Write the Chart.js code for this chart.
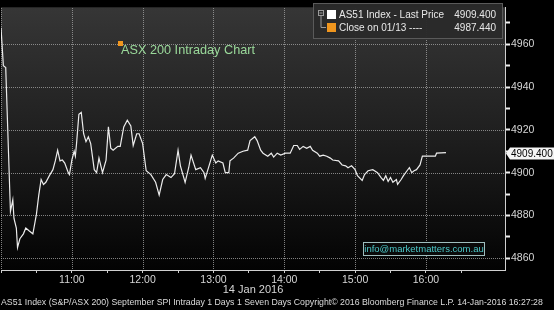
<!DOCTYPE html>
<html>
<head>
<meta charset="utf-8">
<script src="https://cdn.jsdelivr.net/npm/chart.js@4"></script>
<style>
  html, body { margin: 0; padding: 0; background: #000; }
  #wrap { width: 554px; height: 310px; position: relative; }
  canvas { display: block; }
</style>
</head>
<body>
<div id="wrap"><canvas id="c" width="554" height="310"></canvas></div>
<script>
// ---- Data ----
// minutes after 10:00 on 14 Jan 2016
const minutesSince10 = [0,2,4,8,10,11,13,14,16,19,21,24,27,30,32,34,36,38,41,44,46,48,50,52,54,57,58,60,62,63,64,66,68,70,72,74,76,79,81,83,86,89,91,93,95,99,101,104,107,110,112,115,117,120,123,127,131,134,137,140,144,147,150,152,156,159,161,165,169,172,173,176,179,182,184,188,190,193,194,197,201,205,209,211,215,217,220,222,226,229,231,234,237,241,245,248,251,253,256,259,262,264,268,270,273,276,279,281,286,289,292,294,297,300,302,306,308,311,315,319,322,324,326,328,330,332,335,336,339,341,344,346,348,350,352,355,357,361,368,369,377];
const lastPrice = [4967.7,4950.0,4949.1,4881.8,4887.3,4878.6,4874.1,4865.0,4869.1,4871.4,4874.1,4872.7,4871.4,4880.5,4889.5,4896.8,4894.5,4895.5,4898.6,4901.4,4905.5,4910.5,4905.5,4905.9,4904.5,4900.0,4899.1,4905.9,4910.0,4907.7,4913.6,4927.3,4928.2,4918.2,4914.5,4916.8,4913.6,4901.4,4900.0,4906.8,4900.0,4905.9,4921.4,4911.4,4910.5,4912.3,4912.3,4921.4,4924.5,4921.8,4912.7,4918.2,4918.2,4913.6,4900.9,4899.1,4895.5,4889.5,4896.8,4899.1,4897.7,4899.5,4910.5,4903.2,4895.5,4902.3,4908.2,4901.4,4902.3,4900.0,4897.3,4902.7,4908.2,4904.5,4905.5,4904.5,4900.0,4900.0,4905.5,4906.8,4909.1,4910.0,4910.5,4915.0,4916.8,4915.0,4910.5,4909.1,4907.7,4909.1,4907.3,4909.1,4908.2,4909.1,4909.1,4912.7,4912.7,4910.9,4912.3,4911.4,4912.3,4910.5,4909.1,4907.7,4908.2,4907.7,4906.8,4905.9,4905.5,4903.6,4903.2,4902.3,4903.2,4901.4,4898.6,4896.4,4899.1,4900.9,4901.4,4900.0,4897.7,4896.4,4898.6,4895.9,4897.7,4895.5,4896.8,4894.5,4896.8,4898.6,4900.9,4902.3,4900.0,4900.9,4901.4,4903.6,4907.7,4907.7,4907.7,4909.1,4909.4];

const xTickMinutes = [0,30,60,90,120,150,180,210,240,270,300,330,360,390];
const xLabelMinutes = [60,120,180,240,300,360];
const xTickLabels = ['11:00','12:00','13:00','14:00','15:00','16:00'];
const yTickValues = [4860,4870,4880,4890,4900,4910,4920,4930,4940,4950,4960,4970];
const yLabelValues = [4860,4880,4900,4920,4940,4960];

const dateLabel = '14 Jan 2016';
const chartTitle = 'ASX 200 Intraday Chart';
const legendNames = ['AS51 Index - Last Price', 'Close on 01/13 ----'];
const legendValues = ['4909.400', '4987.440'];
const lastValueLabel = '4909.400';
const lastValue = 4909.4;
const watermark = 'info@marketmatters.com.au';
const footer = 'AS51 Index (S&P/ASX 200) September SPI Intraday 1 Days 1 Seven Days Copyright\u00A9 2016 Bloomberg Finance L.P. 14-Jan-2016 16:27:28';

const FONT = '"Liberation Sans", Arial, sans-serif';
const GRID = 'rgba(160,160,160,0.8)';
const xGridMinutes = [0].concat(xLabelMinutes);

const bgPlugin = {
  id: 'bg',
  beforeDraw(chart) {
    const {ctx, chartArea: a} = chart;
    ctx.save();
    ctx.fillStyle = '#000';
    ctx.fillRect(0, 0, chart.width, chart.height);
    const g = ctx.createLinearGradient(0, a.top, 0, a.bottom);
    g.addColorStop(0, '#363636');
    g.addColorStop(0.5, '#1e1e1e');
    g.addColorStop(1, '#030303');
    ctx.fillStyle = g;
    ctx.fillRect(a.left, a.top, a.right - a.left, a.bottom - a.top);
    ctx.restore();
  }
};

// dotted grid lines (1px dots) at the labelled ticks of both scales
const gridPlugin = {
  id: 'dotgrid',
  beforeDatasetsDraw(chart) {
    const {ctx, chartArea: a, scales} = chart;
    ctx.save();
    ctx.fillStyle = GRID;
    scales.x.ticks.forEach(t => {
      if (xGridMinutes.indexOf(t.value) < 0) return;
      const px = Math.round(scales.x.getPixelForValue(t.value));
      for (let y = Math.ceil(a.top); y < a.bottom; y += 2) ctx.fillRect(px, y, 1, 1);
    });
    scales.y.ticks.forEach(t => {
      if (yLabelValues.indexOf(t.value) < 0) return;
      const py = Math.round(scales.y.getPixelForValue(t.value));
      for (let x = Math.ceil(a.left); x < a.right; x += 2) ctx.fillRect(x, py, 1, 1);
    });
    ctx.restore();
  }
};

const overlayPlugin = {
  id: 'overlay',
  afterDraw(chart) {
    const {ctx} = chart;
    const ys = chart.scales.y;
    ctx.save();

    // Legend box
    ctx.fillStyle = 'rgba(42,42,42,0.97)';
    ctx.fillRect(313, 3, 190, 36);
    ctx.strokeStyle = '#5a5a5a';
    ctx.lineWidth = 1;
    ctx.strokeRect(313.5, 3.5, 189, 35);
    ctx.strokeStyle = '#9a9a9a';
    ctx.strokeRect(318.5, 10.5, 5, 5);
    ctx.beginPath();
    ctx.moveTo(319.5, 13); ctx.lineTo(322.5, 13);
    ctx.moveTo(321, 16); ctx.lineTo(321, 27.5); ctx.lineTo(326, 27.5);
    ctx.stroke();
    ctx.fillStyle = '#ffffff';
    ctx.fillRect(327, 10, 9, 9);
    ctx.fillStyle = '#f0961e';
    ctx.fillRect(327, 23, 9, 9);
    ctx.font = '10px ' + FONT;
    ctx.fillStyle = '#e8e8e8';
    ctx.textBaseline = 'middle';
    ctx.textAlign = 'left';
    ctx.fillText(legendNames[0], 339, 15);
    ctx.fillText(legendNames[1], 339, 28);
    ctx.textAlign = 'right';
    ctx.fillText(legendValues[0], 496, 15);
    ctx.fillText(legendValues[1], 496, 28);

    // Chart title annotation
    ctx.fillStyle = '#f0961e';
    ctx.fillRect(118, 41, 5, 5);
    ctx.font = '12.7px ' + FONT;
    ctx.fillStyle = '#9ad99a';
    ctx.textAlign = 'left';
    ctx.fillText(chartTitle, 121, 50);

    // Watermark box
    ctx.fillStyle = '#0a0a0a';
    ctx.fillRect(363, 242, 122, 14);
    ctx.strokeStyle = '#9fbdbd';
    ctx.strokeRect(363.5, 242.5, 121, 13);
    ctx.font = '9.5px ' + FONT;
    ctx.fillStyle = '#4cc8c8';
    ctx.textAlign = 'center';
    ctx.fillText(watermark, 424, 249.5);

    // Last price label on right axis
    const py = Math.round(ys.getPixelForValue(lastValue)) + 0.5;
    ctx.fillStyle = '#f4f4f4';
    ctx.beginPath();
    ctx.moveTo(506, py);
    ctx.lineTo(510, py - 6);
    ctx.lineTo(554, py - 6);
    ctx.lineTo(554, py + 6);
    ctx.lineTo(510, py + 6);
    ctx.closePath();
    ctx.fill();
    ctx.fillStyle = '#000';
    ctx.font = '10px ' + FONT;
    ctx.textAlign = 'left';
    ctx.fillText(lastValueLabel, 511, py + 0.5);

    // Footer
    let fs = 9;
    ctx.font = fs + 'px ' + FONT;
    while (ctx.measureText(footer).width > 551 && fs > 6) { fs -= 0.25; ctx.font = fs + 'px ' + FONT; }
    ctx.fillStyle = '#dcdcdc';
    ctx.textAlign = 'left';
    ctx.fillText(footer, 1, 303);
    ctx.restore();
  }
};

new Chart(document.getElementById('c'), {
  type: 'line',
  data: {
    datasets: [{
      data: minutesSince10.map((m, i) => ({x: m, y: lastPrice[i]})),
      borderColor: '#ececec',
      borderWidth: 1.2,
      pointRadius: 0,
      tension: 0,
      fill: false
    }]
  },
  options: {
    responsive: false,
    animation: false,
    devicePixelRatio: 1,
    layout: {padding: 0},
    plugins: {legend: {display: false}, tooltip: {enabled: false}, title: {display: false}},
    scales: {
      x: {
        type: 'linear', min: 0, max: 427, position: 'bottom',
        afterBuildTicks: s => { s.ticks = xTickMinutes.map(v => ({value: v})); },
        afterFit: s => { s.height = 40; },
        grid: {
          display: true,
          drawOnChartArea: false,
          drawTicks: true,
          tickLength: 3,
          tickWidth: 1,
          color: '#cfcfcf',
          tickColor: '#cfcfcf'
        },
        border: {display: true, color: '#d0d0d0', width: 1},
        ticks: {
          autoSkip: false, maxRotation: 0, minRotation: 0, padding: 1,
          color: '#d6d6d6', font: {family: FONT, size: 10.5},
          callback: v => { const i = xLabelMinutes.indexOf(v); return i >= 0 ? xTickLabels[i] : ''; }
        },
        title: {display: true, text: dateLabel, color: '#d6d6d6', font: {family: FONT, size: 11}, padding: {top: 0, bottom: 13}}
      },
      y: {
        type: 'linear', position: 'right', min: 4854.5, max: 4977.3,
        afterBuildTicks: s => { s.ticks = yTickValues.map(v => ({value: v})); },
        afterFit: s => { s.width = 49; },
        grid: {
          display: true,
          drawOnChartArea: false,
          drawTicks: true,
          tickLength: 5,
          tickWidth: 2,
          color: '#f0f0f0',
          tickColor: '#f0f0f0'
        },
        border: {display: true, color: '#d0d0d0', width: 1},
        ticks: {
          autoSkip: false, padding: 1,
          color: '#d6d6d6', font: {family: FONT, size: 10.5},
          callback: v => yLabelValues.indexOf(v) >= 0 ? String(v) : ''
        }
      }
    }
  },
  plugins: [bgPlugin, gridPlugin, overlayPlugin]
});
</script>
</body>
</html>
